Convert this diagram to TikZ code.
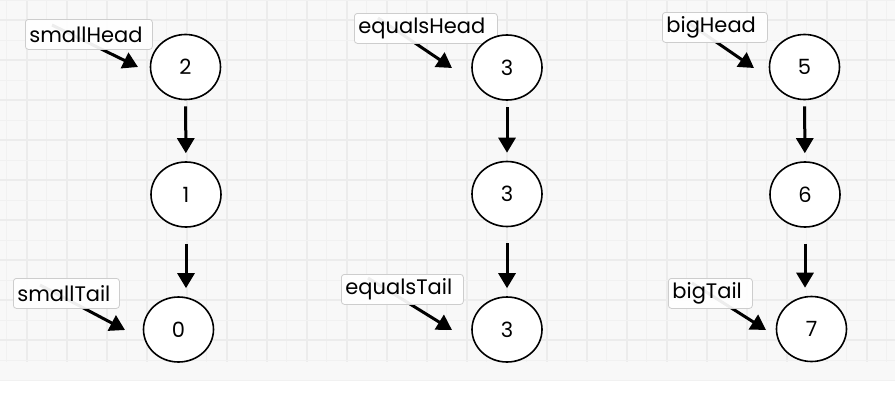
\documentclass[tikz,border=0pt]{standalone}
\usepackage{fontspec}
\setmainfont{Poppins}
\usetikzlibrary{arrows.meta,shapes.geometric}
\definecolor{bgray}{RGB}{248, 248, 248}
\definecolor{lgray}{RGB}{241, 241, 241}
\definecolor{mgray}{RGB}{236, 236, 236}
\definecolor{tgray}{RGB}{205, 205, 205}

\begin{document}
\begin{tikzpicture}[x = 1pt, y = -1pt,
	item/.style = {ellipse, draw, line width = 1.6pt, fill = white, minimum width = 70pt, minimum height = 65pt, inner sep = 0pt, font = \fontsize{21}{21}\selectfont},
	tag/.style = {draw = tgray, line width = 0.8pt, rounded corners = 3pt, fill = white, fill opacity = 0.93, text opacity = 1, minimum height = 30pt, inner xsep = 4pt, inner ysep = 0pt, align = left, anchor = north west, font = \fontsize{21}{21}\selectfont},
	ptr/.style = {line width = 3pt, -{Triangle[length = 15pt, width = 17pt]}},
	link/.style = {ptr, shorten > = 8pt}]
			% background and grid
			\useasboundingbox (0,0) rectangle (895,402);
			\fill[white] (0,0) rectangle (895,402);
			\fill[bgray] (0,0) rectangle (895,380);
			\draw[lgray, line width = 1pt] (0,380) -- (895,380);
			\foreach \i in {0,...,44} {
				\pgfmathsetmacro{\gx}{6.7 + 20*\i}
				\ifodd\i \draw[mgray, line width = 1.6pt] (\gx,0) -- (\gx,362);
				\else \draw[lgray, line width = 1pt] (\gx,0) -- (\gx,362); \fi
			}
			\foreach \j in {0,...,18} {
				\ifodd\j \draw[mgray, line width = 1.6pt] (0,20*\j) -- (895,20*\j);
				\else \draw[lgray, line width = 1pt] (0,20*\j) -- (895,20*\j); \fi
			}
			% pointers from the labels
			\coordinate (sh-a) at (52,25);   \coordinate (sh-b) at (138,67);
			\coordinate (st-a) at (40,285);  \coordinate (st-b) at (125,330);
			\coordinate (eh-a) at (378,18);  \coordinate (eh-b) at (452,68);
			\coordinate (et-a) at (368,278); \coordinate (et-b) at (452,330);
			\coordinate (bh-a) at (690,24);  \coordinate (bh-b) at (754,68);
			\coordinate (bt-a) at (692,283); \coordinate (bt-b) at (766,330);
			\draw[ptr] (sh-a) -- (sh-b);
			\draw[ptr] (st-a) -- (st-b);
			\draw[ptr] (eh-a) -- (eh-b);
			\draw[ptr] (et-a) -- (et-b);
			\draw[ptr] (bh-a) -- (bh-b);
			\draw[ptr] (bt-a) -- (bt-b);
			\node (sh) at (25,19) [tag, text width = 119pt] {smallHead};
			\node (st) at (13,278) [tag, text width = 98pt] {smallTail};
			\node (eh) at (354,13) [tag, text width = 135pt] {equalsHead};
			\node (et) at (341,274) [tag, text width = 114pt] {equalsTail};
			\node (bh) at (662,12) [tag, text width = 97pt] {bigHead};
			\node (bt) at (668,278) [tag, text width = 76pt] {bigTail};
			% lists
			\node (s2) at (185.5,67) [item] {2};
			\node (s1) at (186,194.5) [item] {1};
			\node (s0) at (178.5,329.5) [item] {0};
			\node (e1) at (507,67.5) [item] {3};
			\node (e2) at (507,194) [item] {3};
			\node (e3) at (507,329.5) [item] {3};
			\node (b5) at (804.5,67) [item] {5};
			\node (b6) at (805,194.5) [item] {6};
			\node (b7) at (811.5,329) [item] {7};
			\draw[link, shorten < = 6pt] (s2) -- (s1);
			\draw[link, shorten < = 16pt] (s1.south) -- (s1.south |- s0.north);
			\draw[link, shorten < = 6pt] (e1) -- (e2);
			\draw[link, shorten < = 16pt] (e2.south) -- (e2.south |- e3.north);
			\draw[link, shorten < = 6pt] (b5) -- (b6);
			\draw[link, shorten < = 16pt] (b6.south) -- (b6.south |- b7.north);
			\end{tikzpicture}
\end{document}
